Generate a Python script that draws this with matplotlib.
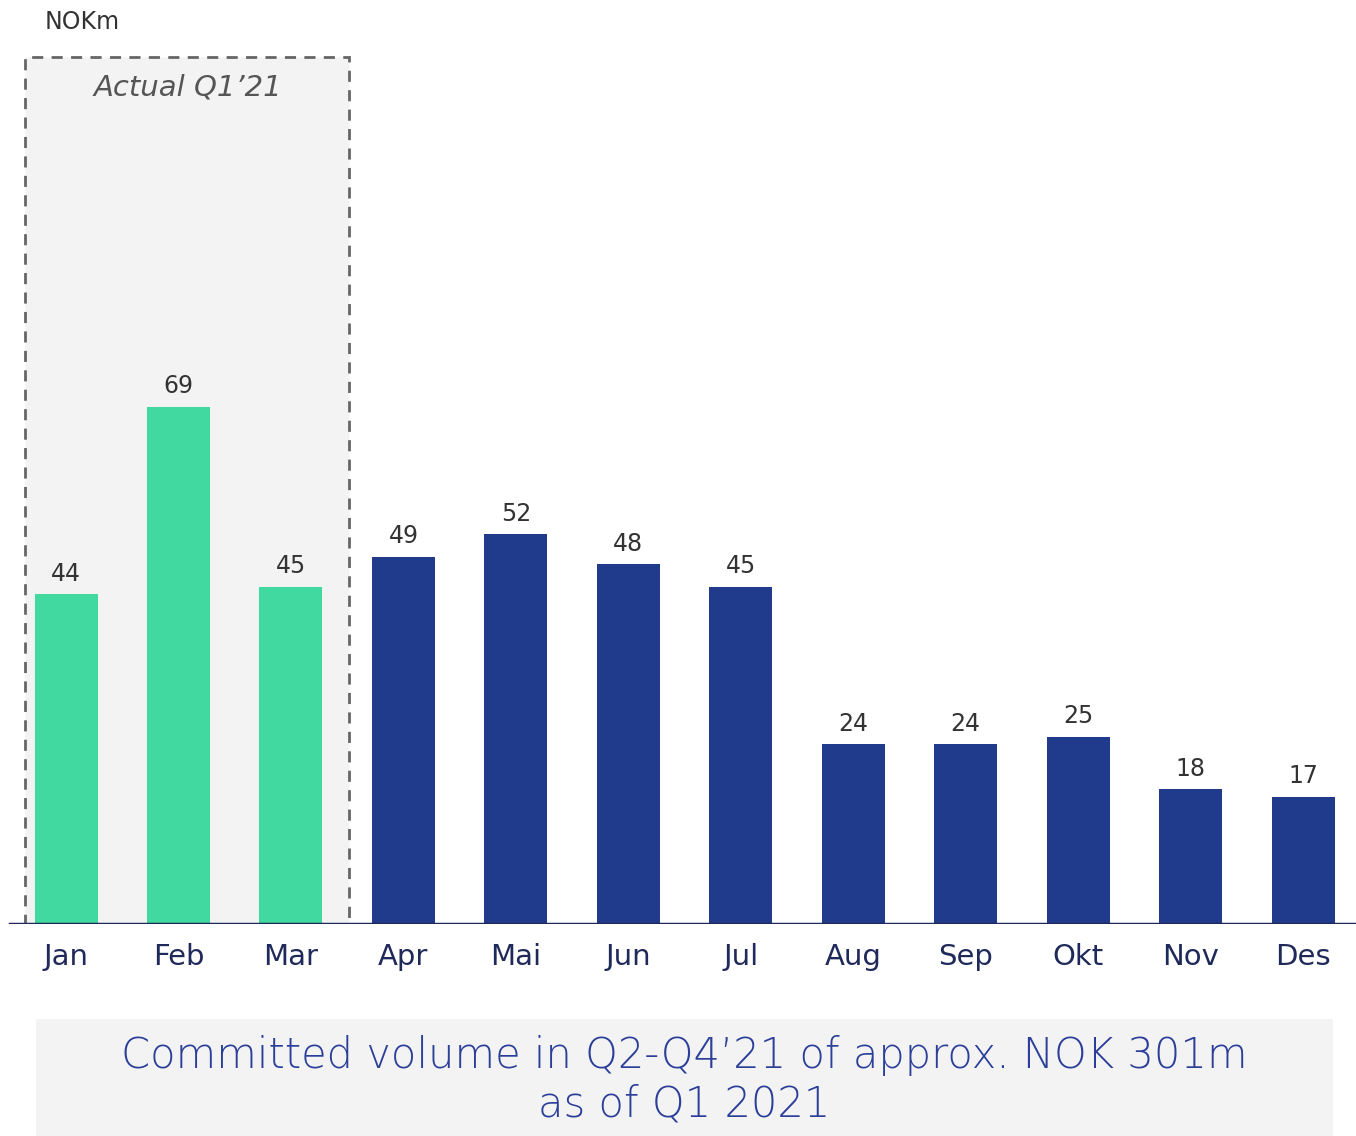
import matplotlib.pyplot as plt
from matplotlib.patches import Rectangle

# data
months = ['Jan', 'Feb', 'Mar', 'Apr', 'Mai', 'Jun', 'Jul', 'Aug', 'Sep', 'Okt', 'Nov', 'Des']
values = [44, 69, 45, 49, 52, 48, 45, 24, 24, 25, 18, 17]
n_actual = 3

green = '#41d9a0'
navy = '#213b8c'
dark = '#1f2a5a'

plt.rcParams['font.family'] = ['DejaVu Sans']

fig = plt.figure(figsize=(13.56, 11.36), dpi=100)
ax = fig.add_axes([0.0, 0.1866, 1.0, 0.8134])

x = list(range(len(months)))
colors = [green if i < n_actual else navy for i in x]
bars = ax.bar(x, values, width=0.56, color=colors, zorder=3)

for b, v in zip(bars, values):
    ax.annotate(str(v), (b.get_x() + b.get_width() / 2, v), xytext=(0, 6),
                textcoords='offset points', ha='center', va='bottom',
                fontsize=17, color='#333333', zorder=4)

# shaded box for actual Q1
box = Rectangle((-0.365, 0), 2.882, 115.6, facecolor='#f3f3f3', edgecolor='#666666',
                linestyle=(0, (4, 3)), linewidth=2, zorder=1)
ax.add_patch(box)
ax.text(1.08, 111.6, 'Actual Q1\u201921', ha='center', va='center', fontsize=21,
        style='italic', color='#555555', zorder=4)

ax.set_xlim(-0.587, 11.47)
ax.set_ylim(0, 123.2)
ax.axhline(0, xmin=10 / 1356, xmax=1, color=dark, linewidth=2.5, zorder=5)
for s in ax.spines.values():
    s.set_visible(False)
ax.set_yticks([])
ax.set_xticks(x)
ax.set_xticklabels(months, fontsize=21, color=dark)
ax.tick_params(axis='x', length=0, pad=14)
ax.set_facecolor('none')

fig.text(45 / 1356, 1 - 22 / 1136, 'NOKm', fontsize=17, color='#333333', va='center', ha='left')

# bottom note box
fig.patches.append(Rectangle((36 / 1356, 0), 1297 / 1356, 117 / 1136, transform=fig.transFigure,
                             facecolor='#f3f3f3', edgecolor='none', zorder=0))
fig.text(684 / 1356, 1 - 1080 / 1136,
         'Committed volume in Q2-Q4\u201921 of approx. NOK 301m\nas of Q1 2021',
         ha='center', va='center', fontsize=30, color='#2b3f9a', linespacing=1.22,
         fontweight='light')

fig.savefig('out.png', dpi=100)
